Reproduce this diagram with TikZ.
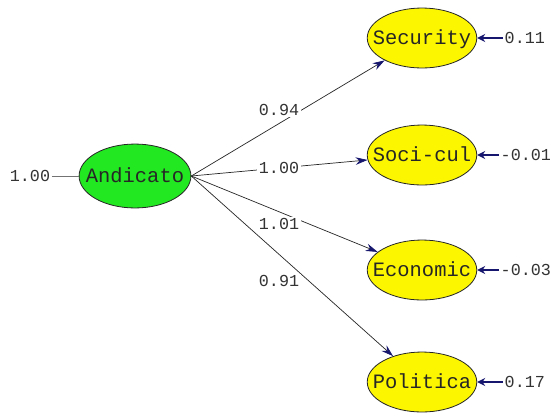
\documentclass[tikz,border=0pt]{standalone}
\usepackage{fontspec}
\setmonofont{Liberation Mono}
\usetikzlibrary{shapes.geometric,arrows.meta}
\definecolor{lgreen}{RGB}{34,232,34}
\definecolor{lyellow}{RGB}{252,246,0}
\definecolor{navyblue}{RGB}{22,22,110}
\tikzset{
 latent/.style={ellipse, draw=black!85, line width=0.8bp, fill=lyellow, inner xsep=-10.3bp, inner ysep=11.7bp, text height=15.5bp, text depth=3.5bp, font=\fontsize{20.5}{22}\selectfont\ttfamily, text=black!85},
 num/.style={font=\fontsize{16.8}{18}\selectfont\ttfamily, text=black!80, inner sep=1.5bp},
 loadarrow/.style={draw=black!85, line width=0.7bp, -{Stealth[length=12bp,width=7.5bp,color=navyblue]}},
 errarrow/.style={draw=navyblue, line width=1.8bp, -{Stealth[length=8bp,width=8bp]}},
}
\begin{document}
\begin{tikzpicture}[x=1bp,y=-1bp]
\useasboundingbox[fill=white] (0,0) rectangle (551,415);
\node[latent, fill=lgreen, inner xsep=-9.5bp, inner ysep=13.1bp] (A) at (135,176) {Andicato};
\node[latent] (S) at (422,38) {Security};
\node[latent] (C) at (422,155) {Soci-cul};
\node[latent] (E) at (422,270) {Economic};
\node[latent] (P) at (422,382) {Politica};
\draw[loadarrow] (A.east) -- (S);
\draw[loadarrow] (A.east) -- (C);
\draw[loadarrow] (A.east) -- (E);
\draw[loadarrow] (A.east) -- (P);
\node[num, fill=white] (lS) at (279,110) {0.94};
\node[num, fill=white] (lC) at (279,168) {1.00};
\node[num, fill=white] (lE) at (279,224) {1.01};
\node[num, fill=white] (lP) at (279,281) {0.91};
\node[num, anchor=west] (eS) at (503,38) {0.11};
\node[num, anchor=west] (eC) at (499,155) {-0.01};
\node[num, anchor=west] (eE) at (499,270) {-0.03};
\node[num, anchor=west] (eP) at (503,382) {0.17};
\draw[errarrow] (eS.west) -- (S.east);
\draw[errarrow] (eC.west) -- (C.east);
\draw[errarrow] (eE.west) -- (E.east);
\draw[errarrow] (eP.west) -- (P.east);
\node[num] (vA) at (30,176) {1.00};
\draw[black!55, line width=0.6bp] (vA.east) -- (A.west);
\end{tikzpicture}
\end{document}
